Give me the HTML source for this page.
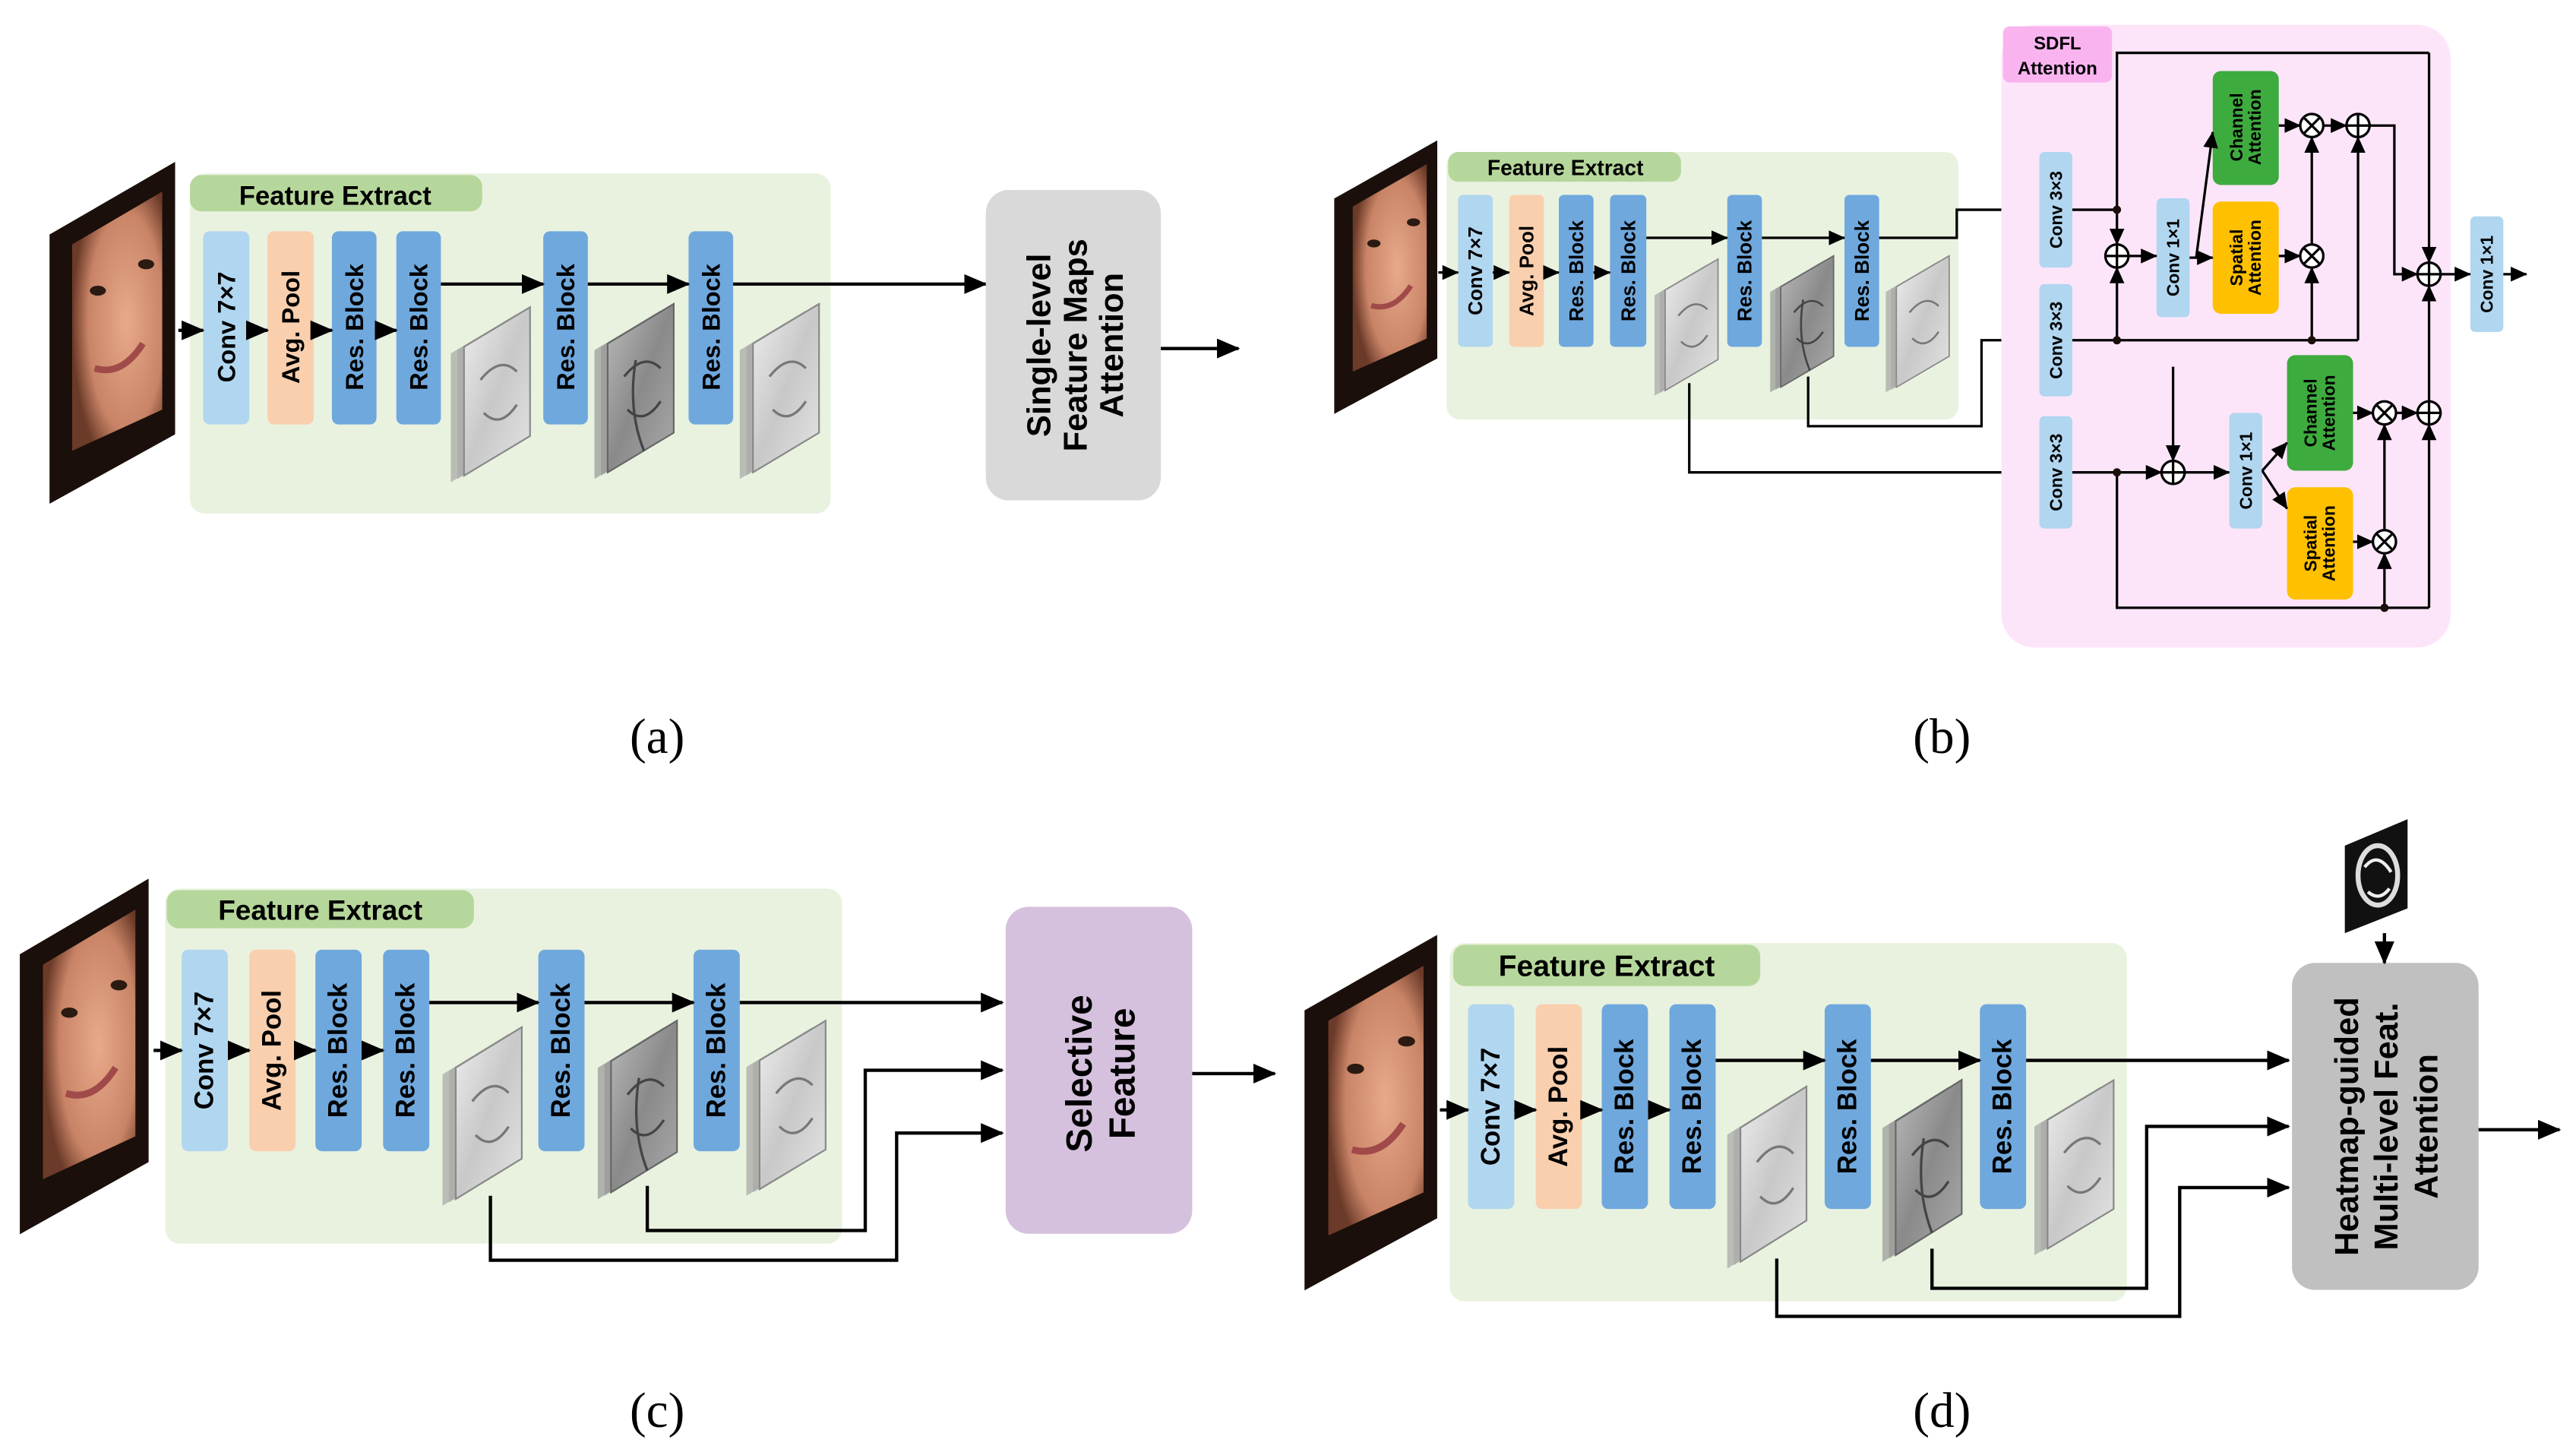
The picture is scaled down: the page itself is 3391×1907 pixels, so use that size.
<!DOCTYPE html>
<html><head><meta charset="utf-8"><style>
html,body{margin:0;padding:0;background:#fff;}
svg{display:block;}
text{font-family:"Liberation Sans",sans-serif;font-weight:bold;fill:#000;}
.lbl{font-family:"Liberation Serif",serif;font-weight:normal;font-size:30px;}
.ln{stroke:#000;stroke-width:2;fill:none;}
.la{stroke:#000;stroke-width:2;fill:none;marker-end:url(#ah);}
.ls{stroke:#000;stroke-width:1.5;fill:none;marker-end:url(#as);}
.ls0{stroke:#000;stroke-width:1.5;fill:none;}
</style></head><body>
<svg width="3391" height="1907" viewBox="0 0 1560 877.3" preserveAspectRatio="none" xmlns="http://www.w3.org/2000/svg">
<defs>
<marker id="ah" markerUnits="userSpaceOnUse" markerWidth="14" markerHeight="12" refX="13" refY="6" orient="auto"><path d="M0,0 L14,6 L0,12 z" fill="#000"/></marker>
<marker id="as" markerUnits="userSpaceOnUse" markerWidth="10" markerHeight="9" refX="9.5" refY="4.5" orient="auto"><path d="M0,0 L10,4.5 L0,9 z" fill="#000"/></marker>
<radialGradient id="skin" cx="0.6" cy="0.5" r="0.6"><stop offset="0" stop-color="#e8a98a"/><stop offset="0.7" stop-color="#c98467"/><stop offset="1" stop-color="#6b3a28"/></radialGradient>
<linearGradient id="fmg" x1="0" y1="0" x2="1" y2="1"><stop offset="0" stop-color="#eee"/><stop offset="0.5" stop-color="#c8c8c8"/><stop offset="1" stop-color="#e4e4e4"/></linearGradient>
<linearGradient id="fmg2" x1="0" y1="0" x2="1" y2="1"><stop offset="0" stop-color="#bbb"/><stop offset="0.5" stop-color="#8a8a8a"/><stop offset="1" stop-color="#aaa"/></linearGradient>
<g id="face">
<polygon points="0,44 78,0 78,165 0,207" fill="#1a0f0a"/>
<polygon points="14,50 70,18 70,150 14,175" fill="url(#skin)"/>
<ellipse cx="60" cy="62" rx="5" ry="3" fill="#2a1a12"/>
<ellipse cx="30" cy="78" rx="5" ry="3" fill="#2a1a12"/>
<path d="M28,125 Q45,130 58,110" stroke="#a04a4a" stroke-width="4" fill="none"/>
</g>
<g id="fm">
<polygon points="0,24 40,0 40,78 0,102" fill="#999" opacity="0.6"/>
<polygon points="4,22 44,-2 44,76 4,100" fill="#aaa" opacity="0.7"/>
<polygon points="8,20 48,-4 48,74 8,98" fill="url(#fmg)" stroke="#888" stroke-width="1"/>
<path d="M18,40 Q30,25 40,35 M20,60 Q30,70 40,55" stroke="#777" stroke-width="1.5" fill="none"/>
</g>
<g id="fmd">
<polygon points="0,24 40,0 40,78 0,102" fill="#888" opacity="0.6"/>
<polygon points="4,22 44,-2 44,76 4,100" fill="#999" opacity="0.7"/>
<polygon points="8,20 48,-4 48,74 8,98" fill="url(#fmg2)" stroke="#666" stroke-width="1"/>
<path d="M18,40 Q30,25 40,35 M20,60 Q30,70 40,55 M25,30 Q20,60 30,85" stroke="#444" stroke-width="1.5" fill="none"/>
</g>
</defs>

<!-- ===== (a) ===== -->
<use href="#face" transform="translate(30,98) scale(0.975,1)"/>
<rect x="115" y="105" width="388" height="206" rx="9" fill="#e9f2df"/>
<rect x="115" y="106" width="177" height="22" rx="7" fill="#b6d79b"/>
<text x="203" y="124" font-size="16" text-anchor="middle">Feature Extract</text>
<rect x="123" y="140" width="28" height="117" rx="4" fill="#b1d6f0"/>
<rect x="162" y="140" width="28" height="117" rx="4" fill="#f9cfae"/>
<rect x="201" y="140" width="27" height="117" rx="4" fill="#6fa8dd"/>
<rect x="240" y="140" width="27" height="117" rx="4" fill="#6fa8dd"/>
<rect x="329" y="140" width="27" height="117" rx="4" fill="#6fa8dd"/>
<rect x="417" y="140" width="27" height="117" rx="4" fill="#6fa8dd"/>
<g font-size="15">
<text transform="translate(137,198) rotate(-90)" text-anchor="middle" dominant-baseline="central">Conv 7×7</text>
<text transform="translate(176,198) rotate(-90)" text-anchor="middle" dominant-baseline="central">Avg. Pool</text>
<text transform="translate(214.5,198) rotate(-90)" text-anchor="middle" dominant-baseline="central">Res. Block</text>
<text transform="translate(253.5,198) rotate(-90)" text-anchor="middle" dominant-baseline="central">Res. Block</text>
<text transform="translate(342.5,198) rotate(-90)" text-anchor="middle" dominant-baseline="central">Res. Block</text>
<text transform="translate(430.5,198) rotate(-90)" text-anchor="middle" dominant-baseline="central">Res. Block</text>
</g>
<path class="la" d="M108,200 H123"/><path class="la" d="M151,200 H162"/><path class="la" d="M190,200 H201"/><path class="la" d="M228,200 H240"/>
<path class="la" d="M267,172 H329"/><path class="la" d="M356,172 H417"/><path class="la" d="M444,172 H597"/>
<use href="#fm" transform="translate(273,190)"/>
<use href="#fmd" transform="translate(360,188)"/>
<use href="#fm" transform="translate(448,188)"/>
<rect x="597" y="115" width="106" height="188" rx="14" fill="#d9d9d9"/>
<g font-size="20"><text transform="translate(650,209) rotate(-90)" text-anchor="middle">
<tspan x="0" dy="-14">Single-level</tspan><tspan x="0" dy="22">Feature Maps</tspan><tspan x="0" dy="22">Attention</tspan></text></g>
<path class="la" d="M703,211 H750"/>
<text class="lbl" x="398" y="456" text-anchor="middle">(a)</text>

<!-- ===== (b) ===== -->
<use href="#face" transform="translate(808,85) scale(0.8,0.8)"/>
<rect x="876" y="92" width="310" height="162" rx="8" fill="#e9f2df"/>
<rect x="877" y="92" width="141" height="18" rx="6" fill="#b6d79b"/>
<text x="948" y="106" font-size="13" text-anchor="middle">Feature Extract</text>
<rect x="883" y="118" width="21" height="92" rx="3" fill="#b1d6f0"/>
<rect x="914" y="118" width="21" height="92" rx="3" fill="#f9cfae"/>
<rect x="944" y="118" width="21" height="92" rx="3" fill="#6fa8dd"/>
<rect x="975" y="118" width="22" height="92" rx="3" fill="#6fa8dd"/>
<rect x="1046" y="118" width="21" height="92" rx="3" fill="#6fa8dd"/>
<rect x="1117" y="118" width="21" height="92" rx="3" fill="#6fa8dd"/>
<g font-size="12">
<text transform="translate(893.5,164) rotate(-90)" text-anchor="middle" dominant-baseline="central">Conv 7×7</text>
<text transform="translate(924.5,164) rotate(-90)" text-anchor="middle" dominant-baseline="central">Avg. Pool</text>
<text transform="translate(954.5,164) rotate(-90)" text-anchor="middle" dominant-baseline="central">Res. Block</text>
<text transform="translate(986,164) rotate(-90)" text-anchor="middle" dominant-baseline="central">Res. Block</text>
<text transform="translate(1056.5,164) rotate(-90)" text-anchor="middle" dominant-baseline="central">Res. Block</text>
<text transform="translate(1127.5,164) rotate(-90)" text-anchor="middle" dominant-baseline="central">Res. Block</text>
</g>
<path class="ls" d="M871,165 H883"/><path class="ls" d="M904,165 H914"/><path class="ls" d="M935,165 H944"/><path class="ls" d="M965,165 H975"/>
<path class="ls" d="M997,144 H1046"/><path class="ls" d="M1067,144 H1117"/>
<path class="ls" d="M1138,144 H1185 V127 H1234"/>
<use href="#fm" transform="translate(1002,160) scale(0.8,0.78)"/>
<use href="#fmd" transform="translate(1072,158) scale(0.8,0.78)"/>
<use href="#fm" transform="translate(1142,158) scale(0.8,0.78)"/>
<path class="ls" d="M1095,228 V258 H1200 V206 H1234"/>
<path class="ls" d="M1023,232 V286 H1234"/>
<!-- SDFL -->
<rect x="1212" y="15" width="272" height="377" rx="20" fill="#fde5f9"/>
<rect x="1213" y="16" width="66" height="34" rx="4" fill="#f9b4f0"/>
<text x="1246" y="30" font-size="11" text-anchor="middle">SDFL</text>
<text x="1246" y="45" font-size="11" text-anchor="middle">Attention</text>
<g fill="#b1d6f0">
<rect x="1235" y="92" width="20" height="70" rx="3"/>
<rect x="1235" y="172" width="20" height="68" rx="3"/>
<rect x="1235" y="252" width="20" height="68" rx="3"/>
<rect x="1306" y="120" width="20" height="72" rx="3"/>
<rect x="1496" y="131" width="20" height="70" rx="3"/>
<rect x="1350" y="250" width="20" height="70" rx="3"/>
</g>
<rect x="1340" y="43" width="40" height="69" rx="5" fill="#3eab3e"/>
<rect x="1340" y="122" width="40" height="68" rx="5" fill="#ffc000"/>
<rect x="1385" y="215" width="40" height="70" rx="5" fill="#3eab3e"/>
<rect x="1385" y="295" width="40" height="68" rx="5" fill="#ffc000"/>
<g font-size="10.5">
<text transform="translate(1245,127) rotate(-90)" text-anchor="middle" dominant-baseline="central">Conv 3×3</text>
<text transform="translate(1245,206) rotate(-90)" text-anchor="middle" dominant-baseline="central">Conv 3×3</text>
<text transform="translate(1245,286) rotate(-90)" text-anchor="middle" dominant-baseline="central">Conv 3×3</text>
<text transform="translate(1316,156) rotate(-90)" text-anchor="middle" dominant-baseline="central">Conv 1×1</text>
<text transform="translate(1506,166) rotate(-90)" text-anchor="middle" dominant-baseline="central">Conv 1×1</text>
<text transform="translate(1360,285) rotate(-90)" text-anchor="middle" dominant-baseline="central">Conv 1×1</text>
<text transform="translate(1360,77) rotate(-90)" text-anchor="middle"><tspan x="0" dy="-2">Channel</tspan><tspan x="0" dy="11">Attention</tspan></text>
<text transform="translate(1360,156) rotate(-90)" text-anchor="middle"><tspan x="0" dy="-2">Spatial</tspan><tspan x="0" dy="11">Attention</tspan></text>
<text transform="translate(1405,250) rotate(-90)" text-anchor="middle"><tspan x="0" dy="-2">Channel</tspan><tspan x="0" dy="11">Attention</tspan></text>
<text transform="translate(1405,329) rotate(-90)" text-anchor="middle"><tspan x="0" dy="-2">Spatial</tspan><tspan x="0" dy="11">Attention</tspan></text>
</g>
<!-- connectors -->
<path class="ls0" d="M1255,127 H1282 V32 H1471"/>
<path class="ls" d="M1471,32 V159"/>
<path class="ls" d="M1282,127 V148"/>
<path class="ls0" d="M1255,206 H1428"/>
<path class="ls" d="M1282,206 V162"/>
<path class="ls" d="M1289,155 H1306"/>
<path class="ls" d="M1326,156 H1330 L1340,80"/>
<path class="ls" d="M1330,156 H1340"/>
<path class="ls" d="M1380,76 H1393"/>
<path class="ls" d="M1407,76 H1421"/>
<path class="ls" d="M1380,155 H1393"/>
<path class="ls" d="M1400,206 V162"/>
<path class="ls" d="M1400,148 V83"/>
<path class="ls" d="M1428,206 V83"/>
<path class="ls" d="M1435,76 H1450 V166 H1464"/>
<path class="ls" d="M1478,166 H1496"/>
<path class="ls" d="M1516,166 H1530"/>
<path class="ls" d="M1316,222 V279"/>
<path class="ls" d="M1255,286 H1309"/>
<path class="ls" d="M1323,286 H1350"/>
<path class="ls" d="M1370,285 L1385,268"/>
<path class="ls" d="M1370,285 L1385,308"/>
<path class="ls" d="M1425,250 H1437"/>
<path class="ls" d="M1451,250 H1464"/>
<path class="ls" d="M1425,328 H1437"/>
<path class="ls0" d="M1282,286 V368 H1471"/>
<path class="ls" d="M1444,368 V335"/>
<path class="ls" d="M1444,321 V257"/>
<path class="ls" d="M1471,368 V257"/>
<path class="ls" d="M1471,243 V173"/>
<g fill="#1a0f0a"><circle cx="1282" cy="127" r="2.5"/><circle cx="1282" cy="206" r="2.5"/><circle cx="1400" cy="206" r="2.5"/><circle cx="1282" cy="286" r="2.5"/><circle cx="1444" cy="368" r="2.5"/></g>
<g fill="#fff" stroke="#000" stroke-width="1.5">
<circle cx="1282" cy="155" r="7"/><circle cx="1428" cy="76" r="7"/><circle cx="1471" cy="166" r="7"/><circle cx="1316" cy="286" r="7"/><circle cx="1471" cy="250" r="7"/>
<circle cx="1400" cy="76" r="7"/><circle cx="1400" cy="155" r="7"/><circle cx="1444" cy="250" r="7"/><circle cx="1444" cy="328" r="7"/>
</g>
<g stroke="#000" stroke-width="1.5">
<path d="M1275,155 H1289 M1282,148 V162"/><path d="M1421,76 H1435 M1428,69 V83"/><path d="M1464,166 H1478 M1471,159 V173"/><path d="M1309,286 H1323 M1316,279 V293"/><path d="M1464,250 H1478 M1471,243 V257"/>
<path d="M1395,71 L1405,81 M1405,71 L1395,81"/><path d="M1395,150 L1405,160 M1405,150 L1395,160"/><path d="M1439,245 L1449,255 M1449,245 L1439,255"/><path d="M1439,323 L1449,333 M1449,323 L1439,333"/>
</g>
<text class="lbl" x="1176" y="456" text-anchor="middle">(b)</text>

<!-- ===== (c) ===== -->
<use href="#face" transform="translate(12,532) scale(1,1.04)"/>
<rect x="100" y="538" width="410" height="215" rx="9" fill="#e9f2df"/>
<rect x="101" y="539" width="186" height="23" rx="7" fill="#b6d79b"/>
<text x="194" y="557" font-size="17" text-anchor="middle">Feature Extract</text>
<rect x="110" y="575" width="28" height="122" rx="4" fill="#b1d6f0"/>
<rect x="151" y="575" width="28" height="122" rx="4" fill="#f9cfae"/>
<rect x="191" y="575" width="28" height="122" rx="4" fill="#6fa8dd"/>
<rect x="232" y="575" width="28" height="122" rx="4" fill="#6fa8dd"/>
<rect x="326" y="575" width="28" height="122" rx="4" fill="#6fa8dd"/>
<rect x="420" y="575" width="28" height="122" rx="4" fill="#6fa8dd"/>
<g font-size="16">
<text transform="translate(124,636) rotate(-90)" text-anchor="middle" dominant-baseline="central">Conv 7×7</text>
<text transform="translate(165,636) rotate(-90)" text-anchor="middle" dominant-baseline="central">Avg. Pool</text>
<text transform="translate(205,636) rotate(-90)" text-anchor="middle" dominant-baseline="central">Res. Block</text>
<text transform="translate(246,636) rotate(-90)" text-anchor="middle" dominant-baseline="central">Res. Block</text>
<text transform="translate(340,636) rotate(-90)" text-anchor="middle" dominant-baseline="central">Res. Block</text>
<text transform="translate(434,636) rotate(-90)" text-anchor="middle" dominant-baseline="central">Res. Block</text>
</g>
<path class="la" d="M93,636 H110"/><path class="la" d="M138,636 H151"/><path class="la" d="M179,636 H191"/><path class="la" d="M219,636 H232"/>
<path class="la" d="M260,607 H326"/><path class="la" d="M354,607 H420"/><path class="la" d="M448,607 H607"/>
<use href="#fm" transform="translate(268,626) scale(1,1.02)"/>
<use href="#fmd" transform="translate(362,622) scale(1,1.02)"/>
<use href="#fm" transform="translate(452,622) scale(1,1)"/>
<path class="la" d="M392,718 V745 H524 V648 H607"/>
<path class="la" d="M297,724 V763 H543 V686 H607"/>
<rect x="609" y="549" width="113" height="198" rx="14" fill="#d5c1dd"/>
<text transform="translate(665,650) rotate(-90)" text-anchor="middle" font-size="22"><tspan x="0" dy="-4">Selective</tspan><tspan x="0" dy="26">Feature</tspan></text>
<path class="la" d="M722,650 H772"/>
<text class="lbl" x="398" y="864" text-anchor="middle">(c)</text>

<!-- ===== (d) ===== -->
<use href="#face" transform="translate(790,566) scale(1.03,1.04)"/>
<rect x="878" y="571" width="410" height="217" rx="9" fill="#e9f2df"/>
<rect x="880" y="572" width="186" height="25" rx="7" fill="#b6d79b"/>
<text x="973" y="591" font-size="18" text-anchor="middle">Feature Extract</text>
<rect x="889" y="608" width="28" height="124" rx="4" fill="#b1d6f0"/>
<rect x="930" y="608" width="28" height="124" rx="4" fill="#f9cfae"/>
<rect x="970" y="608" width="28" height="124" rx="4" fill="#6fa8dd"/>
<rect x="1011" y="608" width="28" height="124" rx="4" fill="#6fa8dd"/>
<rect x="1105" y="608" width="28" height="124" rx="4" fill="#6fa8dd"/>
<rect x="1199" y="608" width="28" height="124" rx="4" fill="#6fa8dd"/>
<g font-size="16">
<text transform="translate(903,670) rotate(-90)" text-anchor="middle" dominant-baseline="central">Conv 7×7</text>
<text transform="translate(944,670) rotate(-90)" text-anchor="middle" dominant-baseline="central">Avg. Pool</text>
<text transform="translate(984,670) rotate(-90)" text-anchor="middle" dominant-baseline="central">Res. Block</text>
<text transform="translate(1025,670) rotate(-90)" text-anchor="middle" dominant-baseline="central">Res. Block</text>
<text transform="translate(1119,670) rotate(-90)" text-anchor="middle" dominant-baseline="central">Res. Block</text>
<text transform="translate(1213,670) rotate(-90)" text-anchor="middle" dominant-baseline="central">Res. Block</text>
</g>
<path class="la" d="M872,672 H889"/><path class="la" d="M917,672 H930"/><path class="la" d="M958,672 H970"/><path class="la" d="M998,672 H1011"/>
<path class="la" d="M1039,642 H1105"/><path class="la" d="M1133,642 H1199"/><path class="la" d="M1227,642 H1386"/>
<use href="#fm" transform="translate(1046,662) scale(1,1.04)"/>
<use href="#fmd" transform="translate(1140,658) scale(1,1.04)"/>
<use href="#fm" transform="translate(1232,658) scale(1,1)"/>
<path class="la" d="M1170,756 V780 H1300 V682 H1386"/>
<path class="la" d="M1076,762 V797 H1320 V719 H1386"/>
<rect x="1388" y="583" width="113" height="198" rx="14" fill="#c0c0c0"/>
<text transform="translate(1444,682) rotate(-90)" text-anchor="middle" font-size="20"><tspan x="0" dy="-16">Heatmap-guided</tspan><tspan x="0" dy="24">Multi-level Feat.</tspan><tspan x="0" dy="24">Attention</tspan></text>
<polygon points="1420,512 1458,496 1458,550 1420,565" fill="#111"/>
<ellipse cx="1440" cy="530" rx="12" ry="18" fill="none" stroke="#ddd" stroke-width="3"/>
<path d="M1432,525 Q1440,515 1448,528 M1434,540 Q1441,546 1447,538" stroke="#eee" stroke-width="2" fill="none"/>
<path class="la" d="M1444,565 V583"/>
<path class="la" d="M1501,684 H1550"/>
<text class="lbl" x="1176" y="864" text-anchor="middle">(d)</text>
</svg>
</body></html>
